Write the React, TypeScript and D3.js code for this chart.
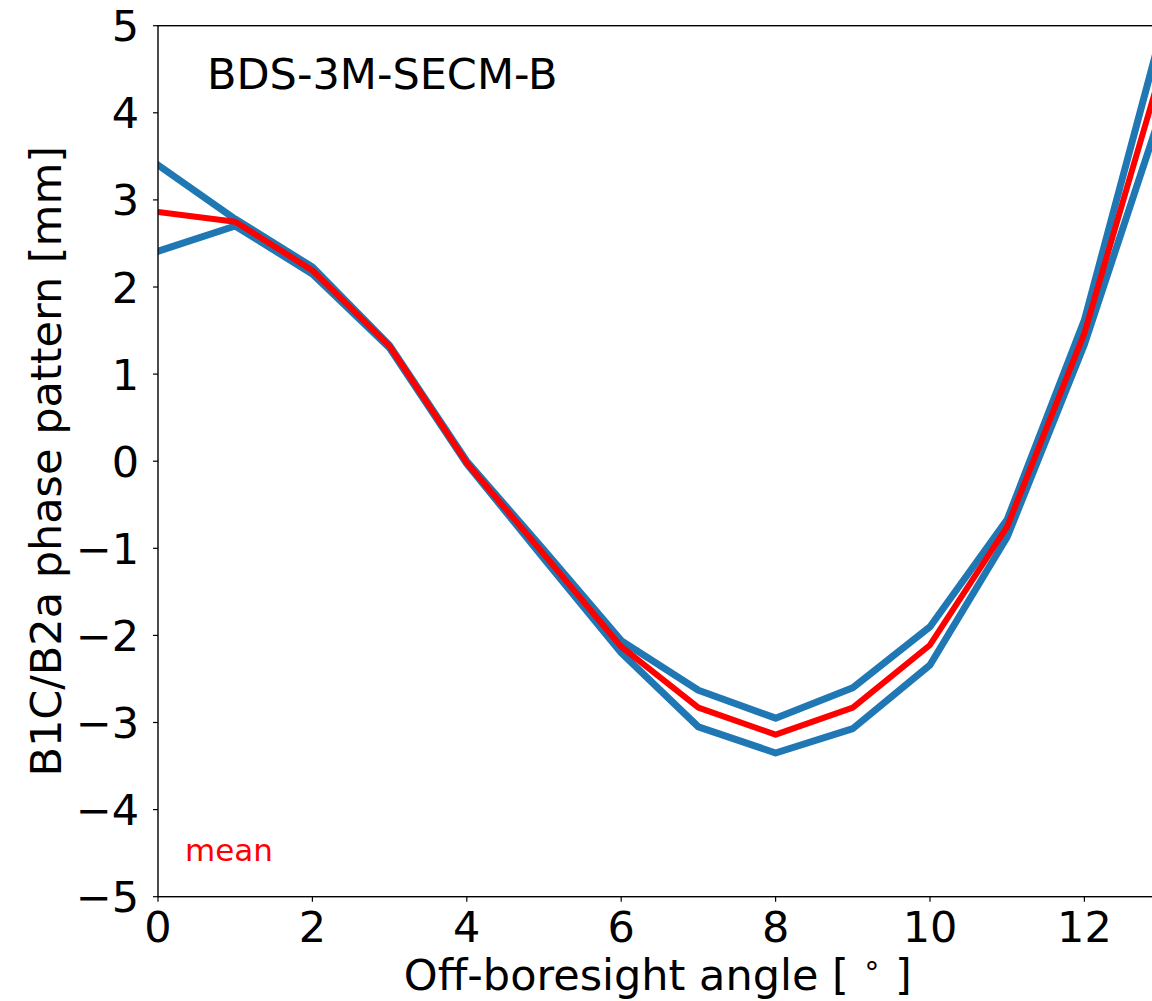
import React from "react";
import * as d3 from "d3";

const angles = [0, 1, 2, 3, 4, 5, 6, 7, 8, 9, 10, 11, 12, 13];
const seriesA = [3.40, 2.78, 2.23, 1.33, 0.0, -1.02, -2.06, -2.63, -2.95, -2.60, -1.90, -0.67, 1.62, 4.93];
const seriesB = [2.41, 2.70, 2.15, 1.30, -0.03, -1.12, -2.20, -3.05, -3.35, -3.07, -2.34, -0.87, 1.34, 4.02];
const meanSeries = [2.86, 2.75, 2.19, 1.32, -0.02, -1.07, -2.13, -2.83, -3.14, -2.83, -2.11, -0.75, 1.47, 4.50];
const xTicks = [0, 2, 4, 6, 8, 10, 12];
const yTicks = [-5, -4, -3, -2, -1, 0, 1, 2, 3, 4, 5];
const title = "BDS-3M-SECM-B";
const xLabelMain = "Off-boresight angle [ ";
const xLabelDegree = "\u2218";
const xLabelEnd = " ]";
const yLabel = "B1C/B2a phase pattern [mm]";
const meanLabel = "mean";

const W = 1152;
const H = 1001;
const left = 158;
const right = 1161.6;
const top = 25.7;
const bottom = 896.7;
const FONT = "DejaVu Sans, sans-serif";
const FS = 43;

export default function App() {
  const x = d3.scaleLinear().domain([0, 13]).range([left, right]);
  const y = d3.scaleLinear().domain([-5, 5]).range([bottom, top]);
  const line = d3
    .line<number>()
    .x((_, i) => x(angles[i]))
    .y((d) => y(d));
  const fmt = (v: number) => (v < 0 ? "\u2212" + Math.abs(v) : String(v));

  return (
    <svg
      width={W}
      height={H}
      style={{ position: "absolute", left: 0, top: 0, background: "#fff" }}
      fontFamily={FONT}
    >
      <defs>
        <clipPath id="plotclip">
          <rect x={left} y={top} width={right - left} height={bottom - top} />
        </clipPath>
      </defs>
      <rect x={0} y={0} width={W} height={H} fill="#fff" />
      <g clipPath="url(#plotclip)" fill="none" strokeLinejoin="round" strokeLinecap="square">
        <path d={line(seriesA) || ""} stroke="#1f77b4" strokeWidth={7} />
        <path d={line(seriesB) || ""} stroke="#1f77b4" strokeWidth={7} />
        <path d={line(meanSeries) || ""} stroke="#ff0000" strokeWidth={6} />
      </g>
      <rect
        x={left}
        y={top}
        width={right - left}
        height={bottom - top}
        fill="none"
        stroke="#000"
        strokeWidth={1.4}
      />
      {xTicks.map((t) => (
        <g key={"x" + t}>
          <line x1={x(t)} x2={x(t)} y1={bottom} y2={bottom + 5} stroke="#000" strokeWidth={1.2} />
          <text x={x(t)} y={bottom + 45} textAnchor="middle" fontSize={FS} fill="#000">
            {fmt(t)}
          </text>
        </g>
      ))}
      {yTicks.map((t) => (
        <g key={"y" + t}>
          <line x1={left - 5} x2={left} y1={y(t)} y2={y(t)} stroke="#000" strokeWidth={1.2} />
          <text x={left - 19} y={y(t) + 15.5} textAnchor="end" fontSize={FS} fill="#000">
            {fmt(t)}
          </text>
        </g>
      ))}
      <text x={(left + right) / 2 - 2} y={990} textAnchor="middle" fontSize={FS} fill="#000">
        {xLabelMain}
        <tspan fontSize={30} dy={-15}>{xLabelDegree}</tspan>
        <tspan dy={15}>{xLabelEnd}</tspan>
      </text>
      <text
        transform={`translate(61,${(top + bottom) / 2}) rotate(-90)`}
        textAnchor="middle"
        fontSize={FS}
        fill="#000"
      >
        {yLabel}
      </text>
      <text x={207} y={89} fontSize={FS} fill="#000">
        {title}
      </text>
      <text x={185} y={861} fontSize={31} fill="#ff0000">
        {meanLabel}
      </text>
    </svg>
  );
}
